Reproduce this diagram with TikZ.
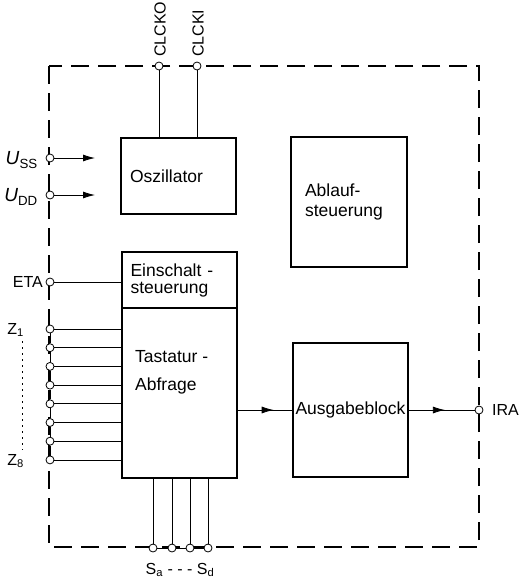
\documentclass[tikz,border=0pt]{standalone}
\usepackage{fontspec}
\setmainfont{Liberation Sans}
\usetikzlibrary{arrows.meta,positioning,calc,decorations.markings}

\begin{document}
\begin{tikzpicture}[x=1pt,y=-1pt,>={Latex[length=12pt,width=7pt]},
  blk/.style={draw,line width=1.4pt,inner sep=0pt,font=\fontsize{17.5}{20}\selectfont},
  term/.style={circle,draw,fill=white,line width=.8pt,inner sep=0pt,minimum size=8pt},
  lbl/.style={inner sep=0pt,font=\fontsize{16}{18}\selectfont},
  wire/.style={line width=.8pt},
  chipfrm/.style={line width=1.1pt,dash pattern=on 18pt off 9pt},
  midarrow/.style={postaction={decorate},decoration={markings,mark=at position #1 with {\arrow{>}}}}]
% Block diagram of the keyboard encoder chip; pixel-like units, y downwards.
\useasboundingbox (0,0) rectangle (527,579);
\draw[chipfrm] (49,66) rectangle (479,547);
\node[blk,minimum width=115pt,minimum height=76pt,text width=97pt,align=left] (osz) at (178.5,176) {Oszillator};
\node[blk,minimum width=116pt,minimum height=130pt,text width=88pt,align=left] (abl) at (349,202) {Ablauf-\\steuerung};
\node[blk,minimum width=115pt,minimum height=56pt,text width=98pt,align=left,font=\fontsize{17.5}{17}\selectfont] (ein) at (179.5,280) {Einschalt -\\steuerung};
\node[blk,minimum width=115pt,minimum height=170pt] (tas) at (179.5,393) {};
\node[anchor=west,align=left,inner sep=0pt,font=\fontsize{17.5}{28}\selectfont] (tastxt) at (135,372) {Tastatur -\\Abfrage};
\node[blk,minimum width=115pt,minimum height=134pt] (aus) at (350.5,410) {Ausgabeblock};
% pins
\node[term] (clko) at (159,66) {};
\node[term] (clki) at (197,66) {};
\node[term] (uss) at (50,158) {};
\node[term] (udd) at (50,195) {};
\node[term] (eta) at (50,282) {};
\foreach \i in {1,...,8}
  \node[term] (z\i) at (50,{329+(\i-1)*18.7}) {};
\foreach \x [count=\i] in {153,172,190,208}
  \node[term] (s\i) at (\x,548) {};
\node[term] (ira) at (479,410) {};
\coordinate (ussend) at (95,158);
\coordinate (uddend) at (95,195);
% wires
\draw[wire] (clko) -- (clko |- osz.north);
\draw[wire] (clki) -- (clki |- osz.north);
\draw[wire,->] (uss) -- (ussend);
\draw[wire,->] (udd) -- (uddend);
\draw[wire] (eta) -- (eta -| ein.west);
\foreach \i in {1,...,8}
  \draw[wire] (z\i) -- (z\i -| tas.west);
\foreach \i [evaluate=\i as \j using int(\i+1)] in {1,...,7}
  \draw[wire] (z\i) -- (z\j);
\foreach \i in {1,...,4}
  \draw[wire] (s\i) -- (s\i |- tas.south);
\foreach \i [evaluate=\i as \j using int(\i+1)] in {1,...,3}
  \draw[wire] (s\i) -- (s\j);
\draw[wire,midarrow=.66] (tas.east |- aus.west) -- (aus.west);
\draw[wire,midarrow=.55] (aus.east) -- (ira);
% labels
\node[lbl,rotate=90,anchor=west] (clkolbl) at (160,57) {CLCKO};
\node[lbl,rotate=90,anchor=west] (clkilbl) at (198,57) {CLCKI};
\node[lbl,anchor=east,font=\fontsize{19}{20}\selectfont] (usslbl) at (38,160) {\textit{U}\textsubscript{SS}};
\node[lbl,anchor=east,font=\fontsize{19}{20}\selectfont] (uddlbl) at (38,197) {\textit{U}\textsubscript{DD}};
\node[lbl,anchor=east] (etalbl) at (43,282) {ETA};
\node[lbl,anchor=east] (z1lbl) at (24,330) {Z\textsubscript{1}};
\node[lbl,anchor=east] (z8lbl) at (24,461) {Z\textsubscript{8}};
\draw[wire,dash pattern=on 2pt off 4pt,shorten <=4pt,shorten >=4pt] ([xshift=-2pt]z1lbl.south east) -- ([xshift=-2pt]z8lbl.north east);
\node[lbl] (slbl) at (180,570) {S\textsubscript{a} - - - S\textsubscript{d}};
\node[lbl,anchor=west] (iralbl) at (492,410) {IRA};
\end{tikzpicture}
\end{document}
